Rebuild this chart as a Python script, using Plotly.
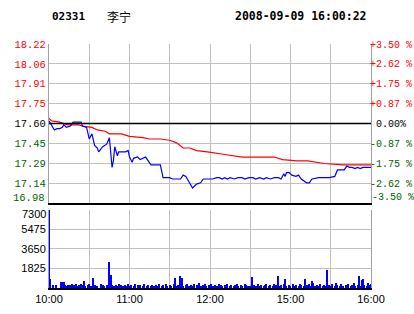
import plotly.graph_objects as go

# ---------------- data ----------------
stock_code = "02331"
stock_name = "李宁"
timestamp = "2008-09-09 16:00:22"
prev_close = 17.60

# minute index (0 = 10:00, 240 = 16:00) and last price
price_t = [0, 1, 4, 6, 8, 10, 11, 13, 16, 18, 21, 24, 25, 28, 30, 32, 34, 36, 37, 40,
           43, 45, 47, 48, 49, 51, 52, 54, 57, 59, 60, 62, 63, 66, 68, 72, 74, 76, 83, 84,
           85, 90, 92, 98, 100, 102, 105, 107, 110, 113, 115, 122, 125, 127, 129, 131, 133, 135, 138, 141,
           144, 146, 149, 152, 154, 157, 160, 162, 165, 168, 171, 173, 175, 176, 177, 179, 181, 184, 186, 188,
           192, 194, 196, 200, 201, 209, 213, 215, 220, 222, 224, 226, 228, 230, 232, 234, 240]
price_v = [17.62, 17.60, 17.55, 17.56, 17.56, 17.57, 17.59, 17.57, 17.58, 17.61, 17.61, 17.61, 17.58, 17.57, 17.48, 17.52, 17.43, 17.41, 17.38, 17.42,
           17.44, 17.49, 17.26, 17.31, 17.42, 17.35, 17.38, 17.38, 17.38, 17.39, 17.34, 17.30, 17.33, 17.34, 17.32, 17.34, 17.31, 17.28, 17.28, 17.24,
           17.18, 17.18, 17.17, 17.17, 17.20, 17.19, 17.14, 17.10, 17.13, 17.14, 17.17, 17.17, 17.18, 17.18, 17.17, 17.18, 17.17, 17.18, 17.17, 17.18,
           17.18, 17.17, 17.18, 17.18, 17.17, 17.18, 17.17, 17.18, 17.17, 17.18, 17.18, 17.17, 17.21, 17.19, 17.22, 17.22, 17.20, 17.19, 17.20, 17.17,
           17.14, 17.14, 17.17, 17.18, 17.18, 17.18, 17.19, 17.24, 17.24, 17.27, 17.26, 17.26, 17.25, 17.26, 17.25, 17.26, 17.26]

# average price line
avg_t = [0, 2, 8, 14, 22, 25, 32, 36, 42, 45, 54, 60, 70, 75, 83, 90, 95, 100, 105, 110,
         118, 127, 131, 144, 153, 168, 174, 185, 193, 205, 219, 240]
avg_v = [17.64, 17.62, 17.61, 17.59, 17.59, 17.58, 17.57, 17.55, 17.54, 17.52, 17.52, 17.50, 17.49, 17.48, 17.48, 17.47, 17.45, 17.41, 17.41, 17.39,
         17.38, 17.37, 17.36, 17.34, 17.34, 17.34, 17.32, 17.31, 17.31, 17.29, 17.28, 17.28]

# per-minute volume, minutes 0..240
volume = [
    7300, 840, 0, 280, 0, 280, 0, 0, 0, 560, 590, 590, 280, 190, 280, 190, 280, 370, 190, 280,
    370, 190, 280, 190, 370, 280, 650, 190, 0, 280, 370, 190, 0, 960, 280, 0, 190, 0, 0, 370,
    280, 190, 0, 280, 190, 2400, 1200, 280, 190, 190, 280, 190, 370, 0, 280, 190, 0, 280, 190, 370,
    190, 280, 0, 190, 370, 0, 280, 190, 280, 0, 190, 370, 0, 190, 280, 0, 190, 280, 190, 0,
    280, 190, 370, 0, 190, 280, 0, 370, 190, 0, 280, 190, 0, 370, 960, 190, 280, 0, 1150, 960,
    190, 0, 280, 370, 190, 0, 280, 190, 370, 0, 280, 190, 470, 190, 0, 280, 370, 190, 0, 280,
    190, 370, 190, 0, 280, 190, 0, 370, 280, 190, 0, 280, 190, 370, 0, 190, 280, 0, 190, 280,
    370, 190, 0, 280, 190, 0, 370, 280, 190, 0, 190, 1030, 0, 280, 190, 0, 370, 190, 280, 0,
    190, 280, 370, 0, 190, 280, 0, 190, 370, 280, 0, 1120, 190, 280, 0, 370, 840, 190, 0, 280,
    190, 0, 370, 190, 280, 0, 190, 370, 280, 0, 190, 840, 280, 0, 370, 190, 650, 470, 190, 0,
    280, 190, 370, 0, 190, 280, 190, 1690, 0, 280, 190, 370, 0, 190, 470, 280, 0, 190, 370, 190,
    0, 280, 190, 370, 0, 190, 280, 470, 190, 0, 280, 1120, 190, 750, 840, 280, 0, 190, 470, 280,
    370,
]
vol_minutes = list(range(len(volume)))

time_tickvals = [0, 30, 60, 90, 120, 150, 180, 210, 240]
time_ticktext = ["10:00", "", "11:00", "", "12:00", "", "15:00", "", "16:00"]

pct_steps = [-4, -3, -2, -1, 0, 1, 2, 3, 4]
price_labels = ["16.98", "17.14", "17.29", "17.45", "17.60", "17.75", "17.91", "18.06", "18.22"]
pct_labels = ["-3.50 %", "-2.62 %", "-1.75 %", "-0.87 %", "\u00a00.00%", "+0.87 %", "+1.75 %", "+2.62 %", "+3.50 %"]
vol_tickvals = [1825, 3650, 5475, 7300]
vol_ticktext = ["1825", "3650", "5475", "7300"]

# ---------------- styling ----------------
RED = "#ff0000"
GREEN = "#006400"
BLACK = "#000000"
GRID = "#c0c0c0"
step = 0.00875

def colored(lbl, k):
    c = RED if k > 0 else (GREEN if k < 0 else BLACK)
    return f'<span style="color:{c}">{lbl}</span>'

price_tickvals = [prev_close * (1 + k * step) for k in pct_steps]
pct_tickvals = [k * step * 100 for k in pct_steps]
# bottom labels are drawn separately (nudged up, as in the original), so blank them on the axis
price_ticktext = [colored(l, k) if i > 0 else "" for i, (l, k) in enumerate(zip(price_labels, pct_steps))]
pct_ticktext = [colored(l, k) if i > 0 else "" for i, (l, k) in enumerate(zip(pct_labels, pct_steps))]
vol_ticktext_axis = vol_ticktext[:-1] + [""]

fig = go.Figure()
fig.add_trace(go.Scatter(x=avg_t, y=avg_v, mode="lines", line=dict(color=RED, width=1.2),
                         xaxis="x", yaxis="y", hoverinfo="skip"))
fig.add_trace(go.Scatter(x=price_t, y=price_v, mode="lines", line=dict(color="#0000ff", width=1.2),
                         xaxis="x", yaxis="y", hoverinfo="skip"))
fig.add_trace(go.Bar(x=vol_minutes, y=volume, width=0.75, marker=dict(color="#0000ff", line=dict(width=0)),
                     xaxis="x2", yaxis="y2", hoverinfo="skip"))
fig.add_trace(go.Scatter(x=[0], y=[0], mode="markers", marker=dict(opacity=0),
                         xaxis="x", yaxis="y3", hoverinfo="skip"))

mono = "Liberation Mono, DejaVu Sans Mono, monospace"
sans = "Liberation Sans, Arial, sans-serif"

xcommon = dict(range=[0, 240], tickmode="array", tickvals=time_tickvals,
               showgrid=True, gridcolor=GRID, gridwidth=1.2, zeroline=False, ticks="",
               fixedrange=True, automargin=False)

fig.update_layout(
    width=414, height=314,
    margin=dict(l=49, r=43, t=44, b=26),
    paper_bgcolor="white", plot_bgcolor="white",
    showlegend=False,
    xaxis=dict(**xcommon, domain=[0, 1], anchor="y", showticklabels=False,
               showline=True, linecolor=BLACK, linewidth=1.5),
    xaxis2=dict(**xcommon, domain=[0, 1], anchor="y2", ticktext=time_ticktext,
                showticklabels=True, tickfont=dict(family=sans, size=11, color=BLACK),
                showline=True, linecolor=BLACK, linewidth=1.5),
    yaxis=dict(domain=[0.3484, 1], range=[price_tickvals[0], price_tickvals[-1]],
               tickmode="array", tickvals=price_tickvals, ticktext=price_ticktext,
               tickfont=dict(family=mono, size=10.5, color=BLACK),
               showgrid=True, gridcolor=GRID, gridwidth=1.2, zeroline=False, ticks="",
               showline=True, linecolor="#a0a0a0", linewidth=1, mirror=True,
               anchor="x", ticklabelstandoff=0, automargin=False),
    yaxis3=dict(overlaying="y", side="right", anchor="x",
                range=[pct_tickvals[0], pct_tickvals[-1]],
                tickmode="array", tickvals=pct_tickvals, ticktext=pct_ticktext,
                tickfont=dict(family=mono, size=10, color=BLACK),
                showgrid=False, zeroline=False, ticks="",
                ticklabelstandoff=-2, automargin=False),
    yaxis2=dict(domain=[0, 0.3197], range=[0, 7300], anchor="x2",
                tickmode="array", tickvals=vol_tickvals, ticktext=vol_ticktext_axis,
                tickfont=dict(family=sans, size=11, color=BLACK),
                showgrid=True, gridcolor=GRID, gridwidth=1.2, zeroline=False, ticks="",
                showline=True, linecolor="#a0a0a0", linewidth=1, mirror=True,
                ticklabelstandoff=0, automargin=False),
    bargap=0,
)

# previous close reference line
fig.add_shape(type="line", xref="x domain", yref="y", x0=0, x1=1, y0=prev_close, y1=prev_close,
              line=dict(color=BLACK, width=1.5))

# nudged edge labels
fig.add_annotation(text=colored(price_labels[0], -1), xref="paper", yref="y", x=0, y=price_tickvals[0],
                   xanchor="right", yanchor="middle", xshift=-2, yshift=5, showarrow=False,
                   font=dict(family=mono, size=10.5, color=BLACK))
fig.add_annotation(text=colored(pct_labels[0], -1), xref="paper", yref="y", x=1, y=price_tickvals[0],
                   xanchor="left", yanchor="middle", xshift=-1, yshift=5, showarrow=False,
                   font=dict(family=mono, size=10, color=BLACK))
fig.add_annotation(text=vol_ticktext[-1], xref="paper", yref="y2", x=0, y=vol_tickvals[-1],
                   xanchor="right", yanchor="middle", xshift=-1, yshift=-4, showarrow=False,
                   font=dict(family=sans, size=11, color=BLACK))

ty = 1 + (44 - 16) / 244
fig.add_annotation(text=stock_code, xref="paper", yref="paper", x=0.003, y=ty, xanchor="left",
                   yanchor="middle", showarrow=False,
                   font=dict(family="DejaVu Sans Mono", size=11, color=BLACK, weight="bold"))
fig.add_annotation(text=stock_name, xref="paper", yref="paper", x=0.174, y=ty, xanchor="left",
                   yanchor="middle", showarrow=False,
                   font=dict(family="Noto Sans CJK SC", size=12, color=BLACK))
fig.add_annotation(text=timestamp, xref="paper", yref="paper", x=0.994, y=ty, xanchor="right",
                   yanchor="middle", showarrow=False,
                   font=dict(family="DejaVu Sans Mono", size=11.5, color=BLACK, weight="bold"))

fig.write_html("out.html")
